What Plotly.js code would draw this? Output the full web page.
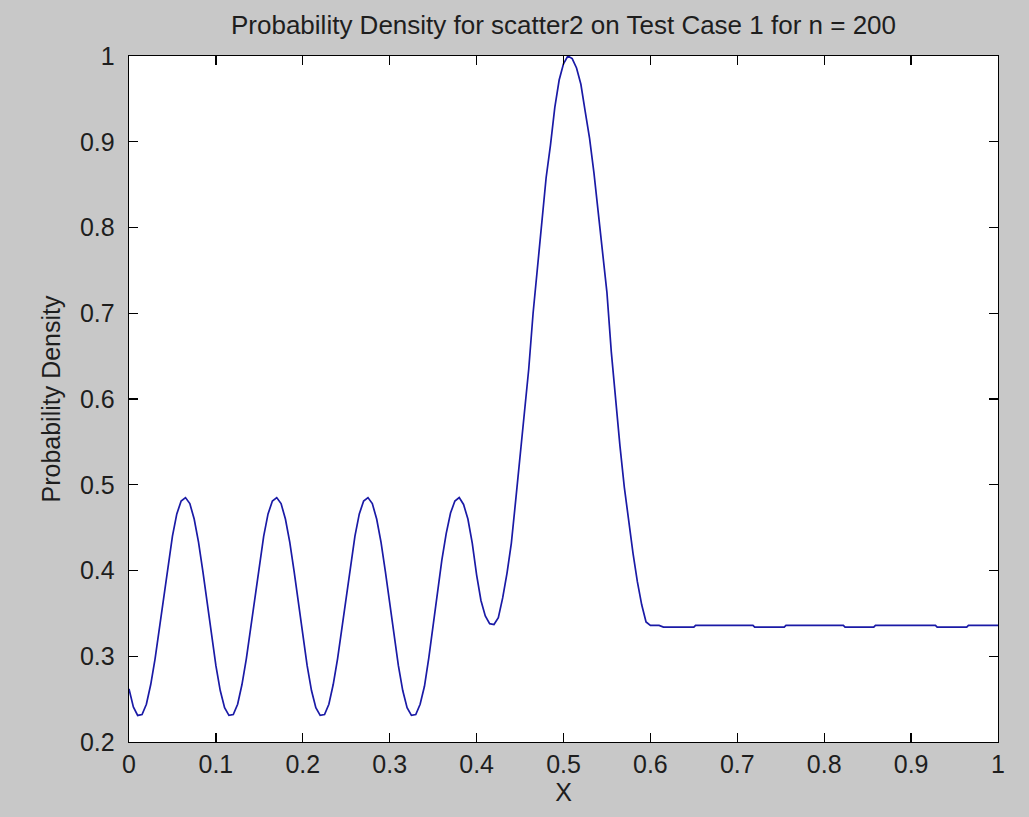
<!DOCTYPE html>
<html>
<head>
<meta charset="utf-8">
<script src="https://cdn.plot.ly/plotly-3.0.1.min.js"></script>
<style>
  html, body { margin: 0; padding: 0; background: #c8c8c8; }
  #chart { width: 1029px; height: 817px; }
</style>
</head>
<body>
<div id="chart"></div>
<script>
const xOsc = [
  0.000, 0.005,
  0.010, 0.015, 0.020, 0.025, 0.030, 0.035, 0.040, 0.045, 0.050, 0.055, 0.060, 0.065, 0.070, 0.075, 0.080, 0.085, 0.090, 0.095, 0.100, 0.105, 0.110,
  0.115, 0.120, 0.125, 0.130, 0.135, 0.140, 0.145, 0.150, 0.155, 0.160, 0.165, 0.170, 0.175, 0.180, 0.185, 0.190, 0.195, 0.200, 0.205, 0.210, 0.215,
  0.220, 0.225, 0.230, 0.235, 0.240, 0.245, 0.250, 0.255, 0.260, 0.265, 0.270, 0.275, 0.280, 0.285, 0.290, 0.295, 0.300, 0.305, 0.310, 0.315, 0.320,
  0.325, 0.330, 0.335, 0.340, 0.345, 0.350, 0.355, 0.360, 0.365, 0.370, 0.375, 0.380
];
const yOsc = [
  0.262, 0.241,
  0.231, 0.232, 0.244, 0.267, 0.297, 0.333, 0.371, 0.408, 0.440, 0.466, 0.481, 0.485, 0.478, 0.460, 0.433, 0.399, 0.362, 0.324, 0.289, 0.260, 0.240,
  0.231, 0.232, 0.244, 0.267, 0.297, 0.333, 0.371, 0.408, 0.440, 0.466, 0.481, 0.485, 0.478, 0.460, 0.433, 0.399, 0.362, 0.324, 0.289, 0.260, 0.240,
  0.231, 0.232, 0.244, 0.267, 0.297, 0.333, 0.371, 0.408, 0.440, 0.466, 0.481, 0.485, 0.478, 0.460, 0.433, 0.399, 0.362, 0.324, 0.289, 0.260, 0.240,
  0.231, 0.232, 0.244, 0.265, 0.298, 0.338, 0.376, 0.412, 0.443, 0.467, 0.481, 0.485
];
const xPeak = [
  0.385, 0.390, 0.395, 0.400, 0.405, 0.410, 0.415, 0.420, 0.425, 0.430, 0.435, 0.440, 0.445, 0.450, 0.455, 0.460,
  0.465, 0.470, 0.475, 0.480, 0.485, 0.490, 0.495, 0.500, 0.505, 0.510, 0.515, 0.520, 0.525, 0.530, 0.535, 0.540,
  0.545, 0.550, 0.555, 0.560, 0.565, 0.570, 0.575, 0.580, 0.585, 0.590, 0.595, 0.600
];
const yPeak = [
  0.477, 0.460, 0.432, 0.395, 0.365, 0.347, 0.338, 0.337, 0.345, 0.368, 0.397, 0.432, 0.482, 0.532, 0.580, 0.635,
  0.700, 0.755, 0.810, 0.858, 0.896, 0.940, 0.972, 0.991, 1.000, 0.997, 0.986, 0.967, 0.935, 0.904, 0.864, 0.815,
  0.773, 0.724, 0.655, 0.598, 0.545, 0.497, 0.458, 0.420, 0.387, 0.360, 0.340, 0.336
];
const xFlat = [0.610, 0.615, 0.650, 0.652, 0.718, 0.720, 0.754, 0.756, 0.822, 0.824, 0.857, 0.859, 0.928, 0.930, 0.964, 0.966, 1.000];
const yFlat = [0.336, 0.334, 0.334, 0.336, 0.336, 0.334, 0.334, 0.336, 0.336, 0.334, 0.334, 0.336, 0.336, 0.334, 0.334, 0.336, 0.336];

const xTicks = [0, 0.1, 0.2, 0.3, 0.4, 0.5, 0.6, 0.7, 0.8, 0.9, 1];
const xTickText = ['0', '0.1', '0.2', '0.3', '0.4', '0.5', '0.6', '0.7', '0.8', '0.9', '1'];
const yTicks = [0.2, 0.3, 0.4, 0.5, 0.6, 0.7, 0.8, 0.9, 1];
const yTickText = ['0.2', '0.3', '0.4', '0.5', '0.6', '0.7', '0.8', '0.9', '1'];

const titleText = 'Probability Density for scatter2 on Test Case 1 for n = 200';
const xTitle = 'X';
const yTitle = 'Probability Density';

const xs = xOsc.concat(xPeak, xFlat);
const ys = yOsc.concat(yPeak, yFlat);

const font = { family: 'Liberation Sans, Arial, sans-serif', size: 25, color: '#1e1e1e' };
const titleFont = { family: 'Liberation Sans, Arial, sans-serif', size: 26, color: '#1e1e1e' };

const trace = {
  x: xs, y: ys, type: 'scatter', mode: 'lines',
  line: { color: '#1a1aa6', width: 1.7 },
  hoverinfo: 'skip'
};

const axisCommon = {
  showgrid: false, zeroline: false, showline: true, linecolor: '#000', linewidth: 1.3,
  mirror: 'ticks', ticks: 'inside', ticklen: 9, tickcolor: '#000', tickwidth: 1.3,
  tickfont: font, tickmode: 'array', fixedrange: true
};

const layout = {
  width: 1029, height: 817,
  paper_bgcolor: '#c8c8c8', plot_bgcolor: '#ffffff',
  margin: { l: 129, r: 31, t: 56, b: 75 },
  showlegend: false,
  font: font,
  title: { text: titleText, font: titleFont, x: 0.5, xref: 'paper', xanchor: 'center', y: 1 - 25 / 817, yref: 'container', yanchor: 'middle' },
  xaxis: Object.assign({}, axisCommon, {
    range: [0, 1], tickvals: xTicks, ticktext: xTickText,
    title: { text: xTitle, font: font, standoff: 5 }
  }),
  yaxis: Object.assign({}, axisCommon, {
    range: [0.2, 1], tickvals: yTicks, ticktext: yTickText, ticklabelstandoff: 8,
    title: { text: yTitle, font: font, standoff: 12 }
  })
};

Plotly.newPlot('chart', [trace], layout, { displayModeBar: false, staticPlot: true });
</script>
</body>
</html>
